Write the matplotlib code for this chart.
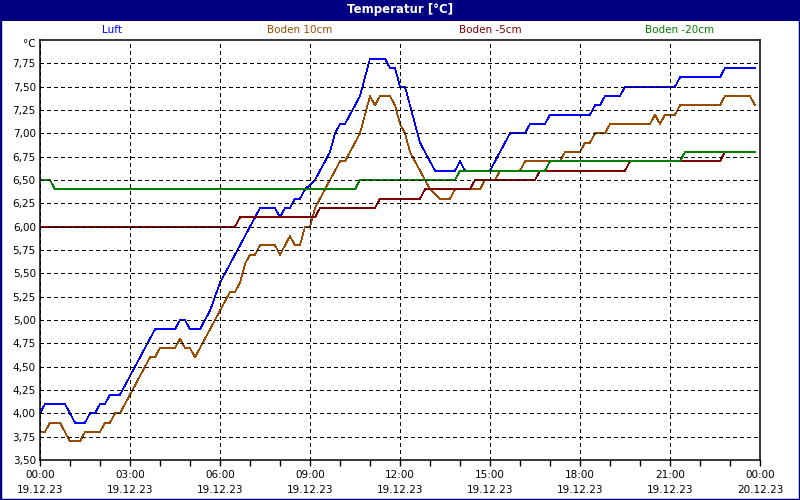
import matplotlib
matplotlib.use('Agg')
import matplotlib.pyplot as plt
import matplotlib.dates as mdates
from matplotlib.patches import Rectangle
from matplotlib.ticker import FuncFormatter
import numpy as np
import pandas as pd

DAY = '2023-12-19 '

# Luft
luft_t = ['00:00', '00:10', '00:50', '01:10', '01:30', '01:40', '01:50', '02:00', '02:10', '02:20',
          '02:40', '03:50', '04:30', '04:40', '04:50', '05:00', '05:20', '05:30', '05:40', '05:50',
          '06:00', '07:20', '07:50', '08:00', '08:10', '08:20', '08:30', '08:40', '08:50', '09:00',
          '09:10', '09:20', '09:30', '09:40', '09:50', '10:00', '10:10', '10:20', '10:30', '10:40',
          '10:50', '11:00', '11:30', '11:40', '11:50', '12:00', '12:10', '12:40', '13:10', '13:50',
          '14:00', '14:10', '15:00', '15:40', '16:10', '16:20', '16:50', '17:00', '18:20', '18:30',
          '18:40', '18:50', '19:20', '19:30', '21:10', '21:20', '22:40', '22:50', '23:50']
luft_v = [4.0, 4.1, 4.1, 3.9, 3.9, 4.0, 4.0, 4.1, 4.1, 4.2,
          4.2, 4.9, 4.9, 5.0, 5.0, 4.9, 4.9, 5.0, 5.1, 5.25,
          5.4, 6.2, 6.2, 6.1, 6.2, 6.2, 6.3, 6.3, 6.4, 6.45,
          6.5, 6.6, 6.7, 6.8, 7.0, 7.1, 7.1, 7.2, 7.3, 7.4,
          7.6, 7.8, 7.8, 7.7, 7.7, 7.5, 7.5, 6.9, 6.6, 6.6,
          6.7, 6.6, 6.6, 7.0, 7.0, 7.1, 7.1, 7.2, 7.2, 7.3,
          7.3, 7.4, 7.4, 7.5, 7.5, 7.6, 7.6, 7.7, 7.7]

# Boden 10cm
b10_t = ['00:00', '00:10', '00:20', '00:40', '01:00', '01:20', '01:30', '02:00', '02:10', '02:20',
         '02:30', '02:40', '03:40', '03:50', '04:00', '04:30', '04:40', '04:50', '05:00', '05:10',
         '06:00', '06:20', '06:30', '06:40', '06:50', '07:00', '07:10', '07:20', '07:50', '08:00',
         '08:20', '08:30', '08:40', '08:50', '09:00', '09:10', '10:00', '10:10', '10:20', '10:40',
         '10:50', '11:00', '11:10', '11:20', '11:40', '11:50', '12:00', '12:10', '12:20', '12:30',
         '12:40', '12:50', '13:00', '13:20', '13:40', '13:50', '14:40', '14:50', '15:10', '15:20',
         '16:00', '16:10', '17:20', '17:30', '18:00', '18:10', '18:20', '18:30', '18:50', '19:00',
         '20:20', '20:30', '20:40', '20:50', '21:10', '21:20', '22:40', '22:50', '23:40', '23:50']
b10_v = [3.8, 3.8, 3.9, 3.9, 3.7, 3.7, 3.8, 3.8, 3.9, 3.9,
         4.0, 4.0, 4.6, 4.6, 4.7, 4.7, 4.8, 4.7, 4.7, 4.6,
         5.1, 5.3, 5.3, 5.4, 5.6, 5.7, 5.7, 5.8, 5.8, 5.7,
         5.9, 5.8, 5.8, 6.0, 6.0, 6.2, 6.7, 6.7, 6.8, 7.0,
         7.2, 7.4, 7.3, 7.4, 7.4, 7.3, 7.1, 7.0, 6.8, 6.7,
         6.6, 6.5, 6.4, 6.3, 6.3, 6.4, 6.4, 6.5, 6.5, 6.6,
         6.6, 6.7, 6.7, 6.8, 6.8, 6.9, 6.9, 7.0, 7.0, 7.1,
         7.1, 7.2, 7.1, 7.2, 7.2, 7.3, 7.3, 7.4, 7.4, 7.3]

# Boden -5cm
b5_t = ['00:00', '06:30', '06:40', '09:10', '09:20', '11:10', '11:20', '12:40', '12:50', '14:20',
        '14:30', '16:30', '16:40', '19:30', '19:40', '22:40', '22:50', '23:50']
b5_v = [6.0, 6.0, 6.1, 6.1, 6.2, 6.2, 6.3, 6.3, 6.4, 6.4,
        6.5, 6.5, 6.6, 6.6, 6.7, 6.7, 6.8, 6.8]

# Boden -20cm
b20_t = ['00:00', '00:20', '00:30', '10:30', '10:40', '13:50', '14:00', '16:50', '17:00', '21:20',
         '21:30', '23:50']
b20_v = [6.5, 6.5, 6.4, 6.4, 6.5, 6.5, 6.6, 6.6, 6.7, 6.7,
         6.8, 6.8]

names = ['Luft', 'Boden 10cm', 'Boden -5cm', 'Boden -20cm']
colors = ['#0000FF', '#994C00', '#800000', '#008000']
label_x = [112, 300, 490, 680]

NAVY = '#000080'


def to_dt(times):
    return pd.to_datetime([DAY + t for t in times])


fig = plt.figure(figsize=(8, 5), dpi=100)
fig.patch.set_facecolor('white')
ax = fig.add_axes([40 / 800, 40 / 500, 720 / 800, 420 / 500])

for t, v, c in zip([luft_t, b10_t, b5_t, b20_t], [luft_v, b10_v, b5_v, b20_v], colors):
    ax.plot(to_dt(t), v, color=c, lw=0.5, antialiased=False, zorder=2)

ax.set_xlim(pd.Timestamp('2023-12-19 00:00'), pd.Timestamp('2023-12-20 00:00'))
ax.set_ylim(3.5, 8.0)
ax.xaxis.set_major_locator(mdates.HourLocator(byhour=range(0, 24, 3)))
ax.xaxis.set_minor_locator(mdates.HourLocator())
ax.xaxis.set_major_formatter(mdates.DateFormatter('%H:%M\n%d.%m.%y'))
ax.set_yticks(np.arange(3.5, 7.76, 0.25))
ax.yaxis.set_major_formatter(FuncFormatter(lambda v, p: f'{v:.2f}'.replace('.', ',')))

ax.set_axisbelow(False)
ax.grid(True, which='major', color='black', linestyle=(0, (4, 3)), lw=0.72, antialiased=False)
ax.tick_params(axis='x', which='both', length=4, width=1, direction='out', labelsize=7.5, pad=3)
ax.tick_params(axis='y', length=0, labelsize=7.5, pad=3)
for sp in ax.spines.values():
    sp.set_linewidth(1.1)
    sp.set_color('black')

for lbl in ax.get_xticklabels():
    lbl.set_linespacing(1.7)

fig.text(36 / 800, 1 - 44 / 500, '°C', fontsize=7.5, ha='right', va='center')

# title bar
fig.patches.append(Rectangle((0, 1 - 21 / 500), 1, 21 / 500, transform=fig.transFigure,
                             facecolor=NAVY, edgecolor='none', zorder=0))
fig.text(0.5, 1 - 10 / 500, 'Temperatur [°C]', color='white', fontsize=8.5, fontweight='bold',
         ha='center', va='center')
fig.patches.append(Rectangle((0, 0), 1, 1, transform=fig.transFigure, fill=False,
                             edgecolor=NAVY, lw=2.5, zorder=5))

for name, c, x in zip(names, colors, label_x):
    fig.text(x / 800, 1 - 30 / 500, name, color=c, fontsize=7.5, ha='center', va='center')

fig.savefig('out.png', dpi=100)
